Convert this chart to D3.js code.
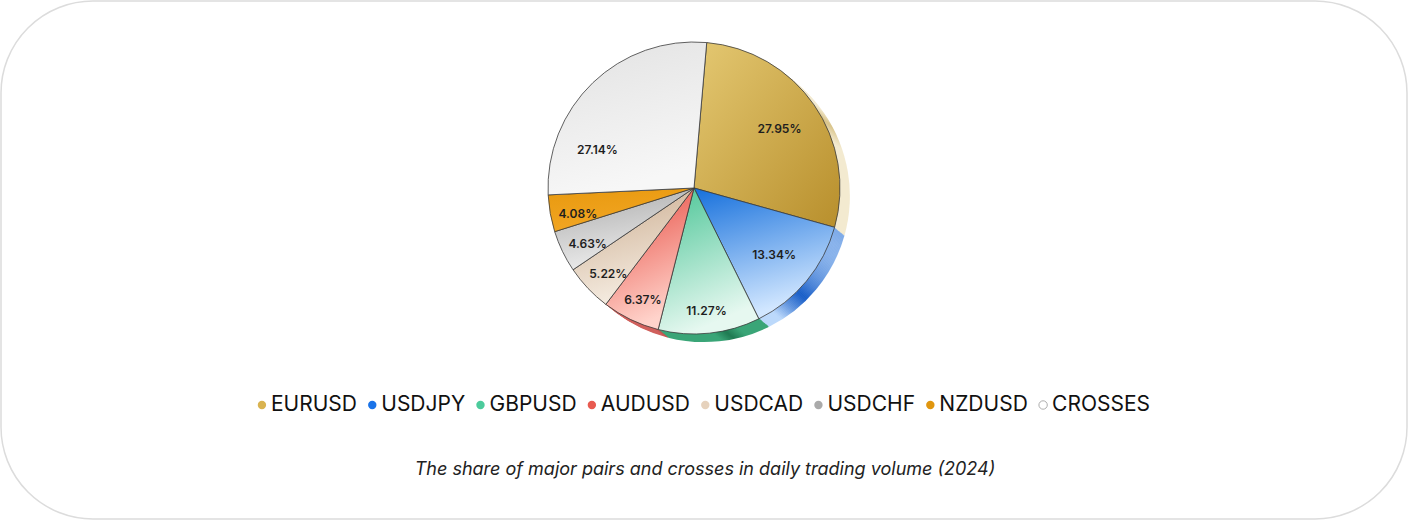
<!DOCTYPE html>
<html lang="en">
<head>
<meta charset="UTF-8">
<title>Major pairs share</title>
<script src="https://cdn.jsdelivr.net/npm/d3@7"></script>
<style>
  html, body { margin: 0; padding: 0; background: #fff; }
  svg { display: block; font-family: Inter, "Noto Sans", sans-serif; }
</style>
</head>
<body>
<svg width="1408" height="520"></svg>
<script>
// data
var pairs = ["EURUSD", "USDJPY", "GBPUSD", "AUDUSD", "USDCAD", "USDCHF", "NZDUSD", "CROSSES"];
var shares = [27.95, 13.34, 11.27, 6.37, 5.22, 4.63, 4.08, 27.14];
var caption = "The share of major pairs and crosses in daily trading volume (2024)";

// colours: legend dot, gradient top, gradient bottom, side wall
var dotColor = ["#d9b350", "#1a73e8", "#4ccb9c", "#e85a50", "#e6d2bd", "#aaaaaa", "#e0960f", "#ffffff"];
var topColor = ["#e4c872", "#1670dc", "#49c495", "#e6453a", "#c9aa8c", "#a9a9a9", "#e8990f", "#e2e2e2"];
var botColor = ["#b88f2c", "#d2e7ff", "#e6f8f0", "#ffd3cb", "#f5ece1", "#ececec", "#f2a623", "#f7f7f7"];
var sideA = ["#f3ead0", "#bcd9fb", "#3aa577", "#d0605c", "#dccab4", "#c4c4c4", "#c98510", "#dcdcdc"];
var sideB = ["#d9c48a", "#1a5fc8", "#1f7a52", "#b84040", "#c9b092", "#a6a6a6", "#b07408", "#c8c8c8"];
// where along the slice the value label sits (0..1 of its angle)
var labelFrac = [0.5, 0.5, 0.5, 0.5, 0.5, 0.5, 0.5, 0.25];

var svg = d3.select("svg");
var W = 1408, H = 520;

// card
svg.append("rect")
    .attr("x", 1).attr("y", 1)
    .attr("width", W - 2).attr("height", H - 2)
    .attr("rx", 92).attr("ry", 92)
    .attr("fill", "#fff")
    .attr("stroke", "#dcdcdc")
    .attr("stroke-width", 1.5);

var defs = svg.append("defs");
pairs.forEach(function(p, i) {
    var lg = defs.append("linearGradient")
        .attr("id", "g" + i)
        .attr("x1", "0").attr("y1", "0")
        .attr("x2", i === 0 ? "1" : "0.3").attr("y2", "1");
    lg.append("stop").attr("offset", "0%").attr("stop-color", topColor[i]);
    lg.append("stop").attr("offset", "100%").attr("stop-color", botColor[i]);

    var sg = defs.append("linearGradient")
        .attr("id", "s" + i)
        .attr("x1", "0").attr("y1", "0")
        .attr("x2", "1").attr("y2", "0.4");
    sg.append("stop").attr("offset", "0%").attr("stop-color", sideA[i]);
    sg.append("stop").attr("offset", "80%").attr("stop-color", sideA[i]);
    sg.append("stop").attr("offset", "90%").attr("stop-color", sideB[i]);
    sg.append("stop").attr("offset", "100%").attr("stop-color", sideA[i]);
});

var cx = 694, cy = 188, r = 146;
var a0 = 5 * Math.PI / 180;
var pie = d3.pie().sort(null)
    .startAngle(a0)
    .endAngle(a0 + 2 * Math.PI)
    .value(function(d) { return d; });
var arcs = pie(shares);
var arc = d3.arc().innerRadius(0).outerRadius(r);

var g = svg.append("g").attr("transform", "translate(" + cx + "," + cy + ")");

// side wall (depth) drawn offset below the top face
for (var k = 9; k >= 1; k--) {
    g.append("g")
        .attr("transform", "translate(" + (k * 1.1) + "," + (k * 0.9) + ")")
        .selectAll("path")
        .data(arcs)
        .enter().append("path")
        .attr("d", arc)
        .attr("fill", function(d, i) { return "url(#s" + i + ")"; });
}

// top faces
g.append("g")
    .selectAll("path")
    .data(arcs)
    .enter().append("path")
    .attr("d", arc)
    .attr("fill", function(d, i) { return "url(#g" + i + ")"; })
    .attr("stroke", "#3a3a3a")
    .attr("stroke-width", 0.8)
    .attr("stroke-linejoin", "round");

// value labels
g.append("g")
    .selectAll("text")
    .data(arcs)
    .enter().append("text")
    .attr("transform", function(d, i) {
        var lr = d.data > 12 ? 104 : 118;
        var a = d.startAngle + (d.endAngle - d.startAngle) * labelFrac[i];
        var px = Math.sin(a) * lr, py = -Math.cos(a) * lr + (d.data > 12 ? 0 : 5);
        return "translate(" + px + "," + py + ")";
    })
    .attr("text-anchor", "middle")
    .attr("dy", "0.35em")
    .attr("font-size", "12px")
    .attr("font-weight", 600)
    .attr("fill", "#1e1e1e")
    .text(function(d) { return d.data.toFixed(2) + "%"; });

// legend
var legend = svg.append("g").attr("font-size", "21px").attr("fill", "#111");
var items = legend.selectAll("g")
    .data(pairs)
    .enter().append("g");
items.append("circle")
    .attr("r", 4.2)
    .attr("cy", -6)
    .attr("fill", function(d, i) { return dotColor[i]; })
    .attr("stroke", function(d, i) { return i === 7 ? "#999" : "none"; })
    .attr("stroke-width", 0.8);
items.append("text")
    .attr("x", 9)
    .text(function(d) { return d; });

var gap = 15.3;
var x = 0, pos = [];
items.each(function() {
    var w = this.querySelector("text").getComputedTextLength();
    pos.push(x);
    x += 9 + w + gap;
});
var total = x - gap + 4;
var x0 = 704 - total / 2 + 4;
items.attr("transform", function(d, i) { return "translate(" + (x0 + pos[i]) + ",411)"; });

// caption
svg.append("text")
    .attr("x", 705).attr("y", 475)
    .attr("text-anchor", "middle")
    .attr("font-size", "18px")
    .attr("font-style", "italic")
    .attr("fill", "#222")
    .text(caption);
</script>
</body>
</html>
